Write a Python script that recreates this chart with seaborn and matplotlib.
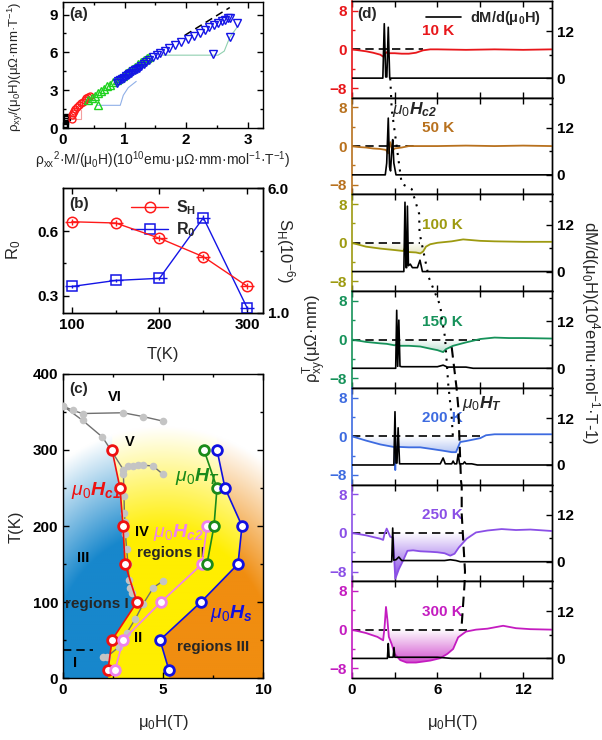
import numpy as np
import matplotlib
matplotlib.use('Agg')
import matplotlib.pyplot as plt
import seaborn as sns
from matplotlib.colors import LinearSegmentedColormap, to_rgb
from matplotlib.lines import Line2D
from matplotlib.path import Path

# ---------------- data: panel (a) ----------------
a_black_x = [0.02, 0.03, 0.03, 0.04, 0.05, 0.07]
a_black_y = [0.15, 0.35, 0.55, 0.70, 0.80, 0.88]
a_red_x = [0.14, 0.14, 0.16, 0.18, 0.20, 0.23, 0.26, 0.29, 0.32, 0.35, 0.38, 0.41, 0.44]
a_red_y = [0.72, 1.05, 1.20, 1.35, 1.50, 1.65, 1.80, 1.95, 2.10, 2.20, 2.35, 2.45, 2.55]
a_green_x = [0.41, 0.57, 0.47, 0.52, 0.57, 0.62, 0.67, 0.72, 0.77, 0.82, 0.87, 0.92,
             0.97, 1.02, 1.07, 1.12, 1.17, 1.22, 1.27, 1.32, 1.37, 1.40]
a_green_y = [2.25, 1.85, 2.35, 2.55, 2.75, 2.95, 3.10, 3.30, 3.45, 3.65, 3.80, 4.00,
             4.15, 4.35, 4.50, 4.70, 4.85, 5.05, 5.20, 5.40, 5.55, 5.65]
a_blue_x = [0.87, 0.90, 0.93, 0.96, 0.99, 1.02, 1.05, 1.08, 1.11, 1.14, 1.17, 1.20, 1.23,
            1.27, 1.31, 1.35, 1.40, 1.46, 1.52, 1.58, 1.65, 1.73, 1.82, 1.92, 2.03, 2.13,
            2.22, 2.30, 2.38, 2.45, 2.52, 2.58, 2.63, 2.68, 2.72, 2.83, 2.71, 2.44]
a_blue_y = [3.55, 3.70, 3.80, 3.90, 4.00, 4.10, 4.20, 4.30, 4.40, 4.50, 4.60, 4.70, 4.80,
            4.95, 5.10, 5.25, 5.40, 5.60, 5.80, 5.95, 6.15, 6.35, 6.60, 6.85, 7.05, 7.30,
            7.55, 7.80, 8.00, 8.20, 8.35, 8.50, 8.60, 8.70, 8.75, 8.35, 7.20, 5.90]
a_lred_x = [0.14, 0.30, 0.30]
a_lred_y = [0.75, 0.75, 1.40]
a_lblue_x = [0.55, 0.93, 0.98, 1.06, 1.19]
a_lblue_y = [1.80, 1.80, 2.60, 3.20, 3.70]
a_teal_x = [1.62, 2.52, 2.62, 2.71, 2.83]
a_teal_y = [5.78, 5.78, 6.10, 7.20, 8.00]
a_dash_x = [1.98, 2.71]
a_dash_y = [7.36, 9.56]

# ---------------- data: panel (b) ----------------
b_T = [100, 150, 200, 250, 300]
b_SH = [4.65, 4.60, 3.99, 3.25, 2.07]
b_R0 = [0.343, 0.371, 0.381, 0.662, 0.243]
b_R0_err = [0.008, 0.008, 0.008, 0.012, 0.008]
b_SH_err = [0.12, 0.12, 0.12, 0.12, 0.12]
b_T_err = [8, 8, 8, 8, 8]

# ---------------- data: panel (c) ----------------
c_hc1_H = [2.25, 2.45, 3.7, 3.1, 3.0, 2.85, 2.45]
c_hc1_T = [10, 50, 100, 150, 200, 250, 300]
c_hc2_H = [2.6, 3.0, 4.9, 6.95, 7.2]
c_hc2_T = [10, 50, 100, 150, 200]
c_ht_H = [7.2, 7.55, 7.7, 7.05]
c_ht_T = [150, 200, 250, 300]
c_hs_H = [5.3, 4.85, 6.9, 8.75, 8.95, 8.1, 7.7]
c_hs_T = [10, 50, 100, 150, 200, 250, 300]
c_g1_H = [0.0, 0.5, 0.98, 3.0, 4.0, 5.0]
c_g1_T = [358, 352, 348, 349, 344, 338]
c_g2_H = [0.0, 0.98, 1.97, 2.42, 3.02, 3.25, 3.5, 3.75, 4.0, 4.5, 5.0]
c_g2_T = [358, 339, 317, 299, 274, 279, 279, 280, 280, 279, 268]
c_g3_H = [3.02, 3.05, 3.07, 3.1, 3.12, 3.18, 3.25, 3.3, 3.35, 3.43]
c_g3_T = [269, 240, 217, 205, 190, 170, 150, 129, 118, 112]
c_g4_H = [1.98, 2.2, 2.8, 3.18, 3.6, 4.02, 4.52, 5.02]
c_g4_T = [27, 28, 41, 59, 77, 98, 119, 128]

# ---------------- data: panel (d) ----------------
d_temps = ['10 K', '50 K', '100 K', '150 K', '200 K', '250 K', '300 K']
d_colors = ['#e8161a', '#b8711e', '#9d9a10', '#16925a', '#3d6be0', '#8a4fe6', '#c41cc0']
d_H = [
    [0, 0.5, 1.0, 1.5, 2.0, 2.2, 2.3, 2.45, 2.6, 3.0, 3.5, 4.0, 4.5, 5.0, 5.5, 6.0, 8.0, 10.0, 12.0, 14.0],
    [0, 0.5, 1.0, 1.5, 2.0, 2.4, 2.55, 2.7, 2.85, 3.0, 3.5, 4.0, 6, 8, 10, 12, 14],
    [0, 1.0, 2.0, 3.0, 3.6, 3.75, 3.9, 4.5, 4.8, 5.0, 5.2, 5.5, 6.0, 7.0, 7.8, 9, 10, 12, 14],
    [0, 1.0, 2.0, 2.45, 3.0, 3.15, 3.3, 4.0, 4.8, 5.5, 6.0, 6.4, 6.6, 7.1, 8.0, 9.0, 10, 11, 12, 14],
    [0, 1.0, 2.0, 2.9, 3.0, 3.05, 3.1, 3.2, 4.0, 4.8, 5.5, 6.4, 7.0, 7.3, 7.6, 8.0, 9.0, 9.4, 10, 12, 14],
    [0, 1.0, 2.0, 2.2, 2.3, 2.45, 2.7, 2.9, 3.05, 3.3, 3.6, 3.9, 4.3, 4.8, 5.5, 6.0, 6.5, 6.9, 7.2,
     7.5, 8.05, 8.7, 9.5, 10.5, 11.5, 12.5, 14],
    [0, 1.0, 1.8, 2.2, 2.3, 2.4, 2.5, 2.6, 2.8, 3.0, 3.4, 3.85, 4.5, 5.5, 6.2, 6.7, 7.1, 7.45, 8.0,
     8.7, 9.5, 10.6, 11.5, 12.5, 14],
]
d_rho = [
    [0, -0.2, -0.4, -0.7, -1.1, -1.5, -1.0, -0.6, -0.8, -0.8, -0.9, -0.9, -0.7, -0.2, 0.0, 0.0, -0.1, 0.0, -0.1, 0.0],
    [0, -0.2, -0.3, -0.5, -0.6, -0.8, -1.5, 0.8, -1.0, -0.5, -0.3, 0.0, 0.0, 0.1, 0.0, 0.1, 0.0],
    [0, -0.8, -1.2, -1.5, -1.7, -1.0, -1.9, -2.0, -2.2, -1.8, -0.8, -0.3, 0.0, 0.3, 0.7, 0.4, 0.3, 0.2, 0.2],
    [0, -0.5, -0.8, -0.9, -1.2, -1.0, -1.3, -1.3, -1.45, -1.9, -2.2, -2.6, -2.0, -1.3, -0.6, 0.1, 0.4, 0.3, 0.3, 0.2],
    [0, -0.9, -1.7, -2.2, -2.3, -7.0, -2.2, -2.2, -2.3, -2.3, -2.6, -3.0, -3.3, -3.3, -1.2, -1.0, -0.4, 0.2, 0.4, 0.4, 0.4],
    [0, -0.5, -1.2, -1.45, -0.2, 0.9, -0.8, -1.0, -9.5, -7.5, -5.7, -3.7, -3.6, -3.8, -3.9, -4.0, -4.2, -4.7, -4.3,
     -3.0, -1.2, 0.1, 0.5, 0.8, 0.6, 0.7, 0.4],
    [0, -0.7, -1.5, -2.2, 0.5, 4.7, 2.0, -1.5, -3.0, -5.0, -6.3, -6.8, -6.8, -6.4, -5.9, -5.0, -4.0, -1.6, -0.4,
     0.0, 0.2, 0.8, 0.3, 0.1, 0.0],
]
dm_H = [
    [0, 2.18, 2.28, 2.38, 2.46, 2.56, 2.66, 14],
    [0, 2.35, 2.45, 2.56, 2.65, 2.72, 2.8, 2.87, 2.95, 3.1, 14],
    [0, 3.65, 3.73, 3.8, 3.85, 3.9, 3.97, 4.1, 4.25, 4.6, 4.78, 4.95, 14],
    [0, 3.08, 3.15, 3.22, 3.3, 3.38, 3.5, 6.0, 6.4, 6.7, 8.0, 8.5, 14],
    [0, 2.95, 3.03, 3.1, 3.17, 3.25, 3.35, 6.2, 6.4, 6.55, 7.0, 7.1, 7.2, 7.35, 7.45, 7.55, 7.8, 7.9, 8.0, 8.4, 8.8, 14],
    [0, 2.8, 2.87, 2.94, 3.1, 3.3, 3.5, 6.5, 6.9, 7.3, 7.6, 14],
    [0, 2.5, 2.56, 2.62, 2.9, 2.96, 3.02, 4.0, 6.0, 7.0, 14],
]
dm_v = [
    [0, 0, 13.9, 0.3, 0.3, 13.0, 0, 0],
    [0, 0, 3, 14.5, 2, 1, 6, 9.0, 3, 0, 0],
    [0, 0, 17.7, 1, 1, 16.7, 1.5, 1.9, 1.0, 1.0, 2.9, 0, 0],
    [0, 0, 14.8, 0.5, 12.3, 0.5, 0.4, 0.4, 0.8, 0.3, 0.3, 0, 0],
    [0, 0, 13.6, 0.5, 0.5, 9.5, 0.3, 0.3, 1.8, 0.3, 0.3, 1.0, 0.3, 0.3, 2.8, 0.3, 0.3, 0.8, 0.3, 0.3, 0, 0],
    [0, 0, 8.6, 0.4, 0.5, 1.2, 0.3, 0.3, 0.5, 0.3, 0, 0],
    [0, 0, 3.8, 0.3, 0.3, 2.8, 0.3, 0.3, 0.3, 0, 0],
]
d_zero_end = [5.0, 4.55, 4.78, 9.0, 9.0, 7.8, 8.2]
# guide lines across panels (panel index, field, rho)
hc2_guide = [(0, 2.7, -6), (1, 2.8, 7.6), (1, 3.5, -7.8), (1, 4.2, -8.9), (2, 4.72, 6), (2, 4.75, 2),
             (2, 5.4, -7.2), (3, 6.2, 7), (3, 6.3, 4.5), (3, 6.53, 0.5), (3, 6.76, -9.3), (4, 7.0, 3.9),
             (4, 7.1, -1.0)]
ht_guide = [(3, 7.0, -1.6), (3, 7.34, -10), (4, 7.46, 6), (4, 7.65, -9.2), (5, 7.7, 9.6), (5, 7.7, 4),
            (5, 7.93, -7.9), (6, 7.9, 9.5), (6, 7.7, 1)]

# ---------------- style ----------------
sns.set_theme(style='ticks')
plt.rcParams.update({
    'font.family': ['Liberation Sans', 'DejaVu Sans'],
    'mathtext.fontset': 'custom',
    'mathtext.rm': 'Liberation Sans',
    'mathtext.it': 'Liberation Sans:italic',
    'mathtext.bf': 'Liberation Sans:bold',
    'mathtext.default': 'regular',
    'axes.edgecolor': 'black',
    'axes.linewidth': 1.0,
    'xtick.color': 'black', 'ytick.color': 'black',
    'xtick.direction': 'in', 'ytick.direction': 'in',
    'xtick.major.size': 4, 'ytick.major.size': 4,
    'xtick.minor.size': 2.5, 'ytick.minor.size': 2.5,
    'xtick.major.width': 1, 'ytick.major.width': 1,
})
try:
    plt.rcParams['mathtext.bfit'] = 'Liberation Sans:italic:bold'
except Exception:
    pass

W, HH = 602, 740
TICKFS = 11
LABFS = 12


def box(l, t, r, b):
    return [l / W, 1 - b / HH, (r - l) / W, (b - t) / HH]


def ftext(x, y, s, **kw):
    fig.text(x / W, 1 - y / HH, s, **kw)


def bold_ticks(ax, color=None):
    for lab in ax.get_xticklabels() + ax.get_yticklabels():
        lab.set_fontweight('bold')
        lab.set_fontsize(TICKFS)


fig = plt.figure(figsize=(6.02, 7.40), dpi=100)

# ================= panel (a) =================
axA = fig.add_axes(box(63, 2, 263, 128))
axA.plot(a_lred_x, a_lred_y, color='#f4a0a0', lw=0.8)
axA.plot(a_lblue_x, a_lblue_y, color='#90b0e8', lw=0.8)
axA.plot(a_teal_x, a_teal_y, color='#90d0b0', lw=0.8)
axA.plot(a_dash_x, a_dash_y, color='black', lw=1.1, ls=(0, (5, 3)))
axA.plot(a_black_x, a_black_y, ls='none', marker='s', ms=4.5, mfc='none', mec='black', mew=1.0)
axA.plot(a_red_x, a_red_y, ls='none', marker='o', ms=5, mfc='none', mec='#ff1a1a', mew=1.0)
axA.plot(a_green_x, a_green_y, ls='none', marker='^', ms=6, mfc='none', mec='#1ed21e', mew=1.0)
axA.plot(a_blue_x, a_blue_y, ls='none', marker='v', ms=6, mfc='none', mec='#1414e6', mew=1.0)
axA.set_xlim(0, 3.25)
axA.set_ylim(0, 10)
axA.set_xticks([0, 1, 2, 3])
axA.set_yticks([0, 3, 6, 9])
axA.set_xticks([0.5, 1.5, 2.5], minor=True)
axA.set_yticks([1.5, 4.5, 7.5], minor=True)
axA.tick_params(which='both', top=True, right=True)
bold_ticks(axA)
axA.text(0.03, 0.96, '(a)', transform=axA.transAxes, fontsize=11, fontweight='bold', va='top')
ftext(163, 160, 'ρ$_{xx}$$^{2}$·M/(μ$_0$H)(10$^{10}$emu·μΩ·mm·mol$^{-1}$·T$^{-1}$)',
      fontsize=10, ha='center', va='center')
ftext(15, 67, 'ρ$_{xy}$/(μ$_0$H)(μΩ·mm·T$^{-1}$)', fontsize=9.5, rotation=90, ha='center', va='center')

# ================= panel (b) =================
axB = fig.add_axes(box(63, 188, 263, 313))
axB2 = axB.twinx()
axB.errorbar(b_T, b_R0, yerr=b_R0_err, xerr=b_T_err, fmt='-s', color='#1414e6', ms=6.5,
             mfc='none', mew=1.1, lw=1.0, elinewidth=1.0, capsize=0, zorder=3)
axB2.errorbar(b_T, b_SH, yerr=b_SH_err, xerr=b_T_err, fmt='-o', color='#ff1a1a', ms=7.5,
              mfc='none', mew=1.1, lw=1.0, elinewidth=1.0, capsize=0, zorder=3)
axB.set_xlim(90, 318)
axB.set_ylim(0.22, 0.80)
axB2.set_ylim(1.0, 6.0)
axB.set_xticks([100, 200, 300])
axB.set_xticks([150, 250], minor=True)
axB.set_yticks([0.3, 0.6])
axB.set_yticks([0.45], minor=True)
axB2.set_yticks([1.0, 6.0])
axB2.set_yticklabels(['1.0', '6.0'])
axB2.set_yticks([3.5], minor=True)
axB.tick_params(which='both', top=True)
bold_ticks(axB)
bold_ticks(axB2)
axB.text(0.03, 0.93, '(b)', transform=axB.transAxes, fontsize=11, fontweight='bold', va='top')
handles = [Line2D([], [], color='#ff1a1a', marker='o', ms=7.5, mfc='none', mew=1.1, lw=1.0),
           Line2D([], [], color='#1414e6', marker='s', ms=6.5, mfc='none', mew=1.1, lw=1.0)]
axB.legend(handles, ['$\\mathbf{S_H}$', '$\\mathbf{R_0}$'], loc='upper left',
           bbox_to_anchor=(0.27, 1.03), frameon=False, fontsize=11.5, handlelength=2.3,
           handletextpad=0.5, labelspacing=0.2)
ftext(163, 355, 'T(K)', fontsize=LABFS, ha='center', va='center')
ftext(14, 250, 'R$_0$', fontsize=LABFS, rotation=90, ha='center', va='center')
ftext(285, 250, 'S$_H$(10$^{-6}$)', fontsize=LABFS, rotation=270, ha='center', va='center')

# ================= panel (c) =================
axC = fig.add_axes(box(63, 374, 263, 678))
gx = np.linspace(0, 10, 500)
gy = np.linspace(0, 400, 500)
GX, GY = np.meshgrid(gx, gy)
b1 = np.interp(GY, c_hc1_T, c_hc1_H)
b2 = np.interp(GY, c_hs_T, c_hs_H)
blue = np.array(to_rgb('#1787cc'))
yellow = np.array(to_rgb('#ffee00'))
orange = np.array(to_rgb('#f08d10'))
rgb = np.where((GX < b1)[..., None], blue, np.where((GX < b2)[..., None], yellow, orange))
r = np.sqrt(((GX - 5) / 10.0) ** 2 + (GY / 330.0) ** 2)
w = np.clip((1.0 - r) / 0.42, 0, 1)[..., None]
img = 1 - w * (1 - rgb)
axC.imshow(img, extent=(0, 10, 0, 400), origin='lower', aspect='auto', zorder=0)

for hx, ty in [(c_g1_H, c_g1_T), (c_g2_H, c_g2_T), (c_g3_H, c_g3_T), (c_g4_H, c_g4_T)]:
    sns.lineplot(x=hx, y=ty, ax=axC, color='#707070', lw=1.0, sort=False, estimator=None, zorder=2)
    sns.scatterplot(x=hx, y=ty, ax=axC, color='#c4c4c4', s=30, linewidth=0, zorder=3)

for hx, ty, col in [(c_hc1_H, c_hc1_T, '#ee1111'), (c_hc2_H, c_hc2_T, '#ee82ee'),
                    (c_ht_H, c_ht_T, '#1a8a1a'), (c_hs_H, c_hs_T, '#1010e0')]:
    axC.plot(hx, ty, '-o', color=col, lw=1.2, ms=7, mfc='white', mec=col, mew=2.0, zorder=4)
axC.plot([0, 1.48], [37, 37], color='black', lw=1.2, ls=(0, (5, 3)), zorder=4)
axC.set_xlim(0, 10)
axC.set_ylim(0, 400)
axC.set_xticks([0, 5, 10])
axC.set_xticks([2.5, 7.5], minor=True)
axC.set_yticks([0, 100, 200, 300, 400])
axC.set_yticks([50, 150, 250, 350], minor=True)
axC.tick_params(which='both', top=True, right=True)
bold_ticks(axC)
axC.text(0.03, 0.975, '(c)', transform=axC.transAxes, fontsize=11, fontweight='bold', va='top')
rk = dict(fontsize=10.5, fontweight='bold', ha='center', va='center', color='black')
axC.text(2.6, 370, 'VI', **rk)
axC.text(3.35, 311, 'V', **rk)
axC.text(3.95, 192, 'IV', **rk)
axC.text(1.0, 158, 'III', **rk)
axC.text(3.75, 52, 'II', **rk)
axC.text(0.6, 20, 'I', **rk)
axC.text(1.7, 98, 'regions I', fontsize=11, fontweight='bold', ha='center', va='center')
axC.text(5.4, 164, 'regions II', fontsize=11, fontweight='bold', ha='center', va='center')
axC.text(7.5, 41, 'regions III', fontsize=11, fontweight='bold', ha='center', va='center')
mk = dict(fontsize=14, ha='center', va='center')
axC.text(1.64, 247, r'$\mathit{\mu}_0\mathbfit{H}_{\mathbfit{c1}}$', color='#ee1111', **mk)
axC.text(6.7, 265, r'$\mathit{\mu}_0\mathbfit{H}_{\mathbfit{T}}$', color='#1a8a1a', **mk)
axC.text(5.77, 192, r'$\mathit{\mu}_0\mathbfit{H}_{\mathbfit{c2}}$', color='#ee82ee', **mk)
axC.text(8.4, 85, r'$\mathit{\mu}_0\mathbfit{H}_{\mathbfit{s}}$', color='#1010e0', **mk)
ftext(163, 723, 'μ$_0$H(T)', fontsize=LABFS, ha='center', va='center')
ftext(16, 527, 'T(K)', fontsize=LABFS, rotation=90, ha='center', va='center')

# ================= panel (d) =================
axes_d = []
ph = 677.0 / 7
for i in range(7):
    top = 1 + i * ph
    ax = fig.add_axes(box(351.7, top, 551.7, top + ph))
    axr = ax.twinx()
    col = d_colors[i]
    H = np.array(d_H[i], dtype=float)
    rho = np.array(d_rho[i], dtype=float)
    # gradient shading under zero
    poly = ax.fill_between(H, rho, 0, where=rho < 0, interpolate=True, color='none', lw=0)
    paths = poly.get_paths()
    if len(paths):
        cmap = LinearSegmentedColormap.from_list('g%d' % i, ['white', col])
        grad = np.linspace(0, 1, 256).reshape(-1, 1)
        im = ax.imshow(grad, extent=(0, 14, -9, 0), origin='upper', aspect='auto', cmap=cmap,
                       vmin=0, vmax=1, zorder=1)
        im.set_clip_path(Path.make_compound_path(*paths), ax.transData)
    ax.plot([0, d_zero_end[i]], [0, 0], color='black', lw=1.2, ls=(0, (5, 3)), zorder=2)
    sns.lineplot(x=H, y=rho, ax=ax, color=col, lw=1.3, sort=False, estimator=None, zorder=3)
    sns.lineplot(x=dm_H[i], y=dm_v[i], ax=axr, color='black', lw=1.2, sort=False, estimator=None)
    ax.set_xlim(0, 14)
    ax.set_ylim(-10, 10)
    axr.set_ylim(-5, 19.7)
    ax.set_xticks([0, 3, 6, 9, 12])
    if i == 6:
        ax.set_xticklabels(['0', '', '6', '', '12'])
    else:
        ax.set_xticklabels([])
    ax.set_yticks([-8, 0, 8])
    ax.set_yticks([-4, 4], minor=True)
    axr.set_yticks([0, 12])
    axr.set_yticks([6, 18], minor=True)
    ax.tick_params(axis='x', which='both', top=True, bottom=True)
    ax.tick_params(axis='y', which='both', colors=col)
    ax.spines['left'].set_color(col)
    ax.spines['left'].set_linewidth(1.2)
    axr.spines['left'].set_visible(False)
    ax.set_ylabel('')
    axr.set_ylabel('')
    ax.set_xlabel('')
    bold_ticks(ax)
    bold_ticks(axr)
    for lab in ax.get_yticklabels():
        lab.set_color(col)
    ax.text(4.9, 3.7, d_temps[i], color=col, fontsize=11, fontweight='bold', ha='left', va='center', zorder=5)
    axes_d.append(ax)
    if i == 0:
        ax.text(0.03, 0.87, '(d)', transform=ax.transAxes, fontsize=11, fontweight='bold', va='center')
        axr.legend([Line2D([], [], color='black', lw=1.2)], ['dM/d(μ$_0$H)'], loc='upper right',
                   bbox_to_anchor=(1.01, 1.05), frameon=False, prop={'weight': 'bold', 'size': 10.5},
                   handlelength=2.4, handletextpad=0.6)

axes_d[1].text(2.8, 7.6, r'$\mathit{\mu_0}\mathbfit{H}_{\mathbfit{c2}}$', fontsize=12.5, ha='left',
               va='center', zorder=6)
axes_d[4].text(7.75, 6.7, r'$\mathit{\mu_0}\mathbfit{H}_{\mathbfit{T}}$', fontsize=12.5, ha='left',
               va='center', zorder=6)

inv = fig.transFigure.inverted()


def guide(points, ls):
    pts = [inv.transform(axes_d[k].transData.transform((h, v))) for k, h, v in points]
    xs = [p[0] for p in pts]
    ys = [p[1] for p in pts]
    fig.add_artist(Line2D(xs, ys, transform=fig.transFigure, color='black', lw=1.5, ls=ls, zorder=10))


guide(hc2_guide, (0, (1, 3)))
guide(ht_guide, (0, (5, 3)))

ftext(452, 722, 'μ$_0$H(T)', fontsize=LABFS, ha='center', va='center')
ftext(315, 338, 'ρ$_{xy}^{T}$(μΩ·mm)', fontsize=LABFS, rotation=90, ha='center', va='center')
ftext(590, 333, 'dM/d(μ$_0$H)(10$^{4}$emu·mol$^{-1}$·T-1)', fontsize=LABFS, rotation=270,
      ha='center', va='center')

fig.savefig('out.png', dpi=100)
